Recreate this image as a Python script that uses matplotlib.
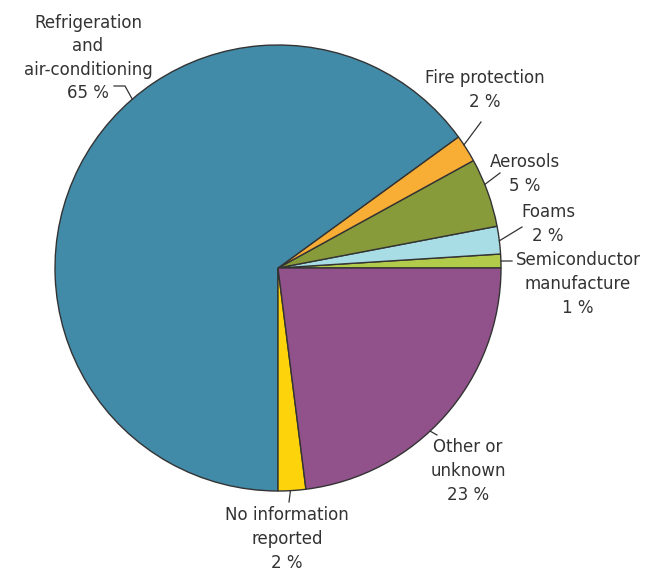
import numpy as np
import matplotlib
matplotlib.use("Agg")
import matplotlib.pyplot as plt

# sectors, counter-clockwise from 3 o'clock
labels = ["Semiconductor\nmanufacture", "Foams", "Aerosols", "Fire protection",
          "Refrigeration\nand\nair-conditioning", "No information\nreported",
          "Other or\nunknown"]
shares = [1, 2, 5, 2, 65, 2, 23]
colors = ["#b2cb4a", "#a8dde6", "#879b3a", "#f8ad35", "#428ba8", "#fdd30c", "#91528b"]

# label text centre (px) and where the leader touches the rim (deg)
text_xy = [(578, 284), (548, 224), (525, 174), (485, 90), (88, 58), (287, 539), (468, 471)]
rim_deg = [1.8, 7.0, 22.0, 33.5, 130.8, 273.2, 313.0]
# leader end points away from the rim (px)
leader = [[(512, 261)], [(522, 227)], [(500, 173)], [(481, 122)],
          [(125, 86), (114, 86)], [(289, 502)], [(437, 435)]]

W, H = 656, 574
cx, cy, r = 278, 268, 223

fig = plt.figure(figsize=(W / 100, H / 100), dpi=100)
ax = fig.add_axes([0, 0, 1, 1])

# y axis runs downward, so clockwise in data means counter-clockwise on screen
ax.pie(shares, colors=colors, startangle=0, counterclock=False,
       center=(cx, cy), radius=r, frame=True,
       wedgeprops=dict(edgecolor="#333333", linewidth=1.0))
ax.set_xlim(0, W)
ax.set_ylim(H, 0)
ax.set_aspect("equal")
ax.axis("off")

for lab, s, (tx, ty), deg, pts in zip(labels, shares, text_xy, rim_deg, leader):
    a = np.deg2rad(deg)
    x0, y0 = cx + r * np.cos(a), cy - r * np.sin(a)
    xs = [x0] + [p[0] for p in pts]
    ys = [y0] + [p[1] for p in pts]
    ax.plot(xs, ys, color="#333333", lw=0.9)
    ax.text(tx, ty, f"{lab}\n{s} %", ha="center", va="center", fontsize=12,
            color="#333333", linespacing=1.4, family="DejaVu Sans")

fig.savefig("out.png", dpi=100)
